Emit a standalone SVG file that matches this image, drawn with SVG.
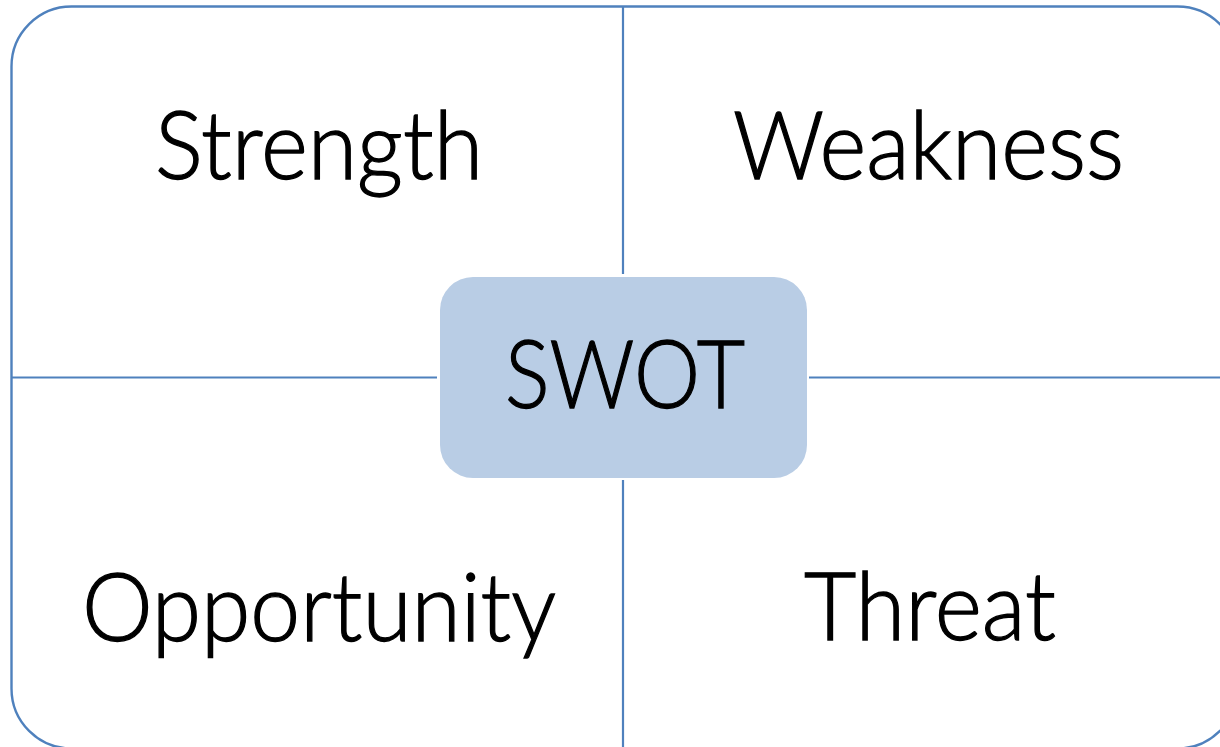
<svg xmlns="http://www.w3.org/2000/svg" width="1220" height="747" viewBox="0 0 1220 747">
<style>
.frame{fill:#FFFFFF;stroke:#4F81BD;stroke-width:2.4}
.conn{stroke:#4F81BD;stroke-width:2.2;fill:none}
.lbl{font-family:Lato,"Liberation Sans",sans-serif;font-weight:300;font-size:94px;fill:#000000;stroke:#000000;stroke-width:1.3;text-anchor:middle}
.core{fill:#B9CDE5;stroke:none}
</style>
<rect width="1220" height="747" fill="#FFFFFF"/>
<g id="frame">
<rect class="frame" x="11.5" y="6.5" width="1226" height="742" rx="60" ry="60"/>
</g>
<g id="connectors">
<line class="conn" x1="623" y1="7" x2="623" y2="274"/>
<line class="conn" x1="623" y1="480" x2="623" y2="747"/>
<line class="conn" x1="12" y1="377.5" x2="437" y2="377.5"/>
<line class="conn" x1="809" y1="377.5" x2="1220" y2="377.5"/>
</g>
<g id="strength">
<text class="lbl" x="319" y="179" textLength="328" lengthAdjust="spacingAndGlyphs">Strength</text>
</g>
<g id="weakness">
<text class="lbl" x="928.5" y="179" textLength="391" lengthAdjust="spacingAndGlyphs">Weakness</text>
</g>
<g id="opportunity">
<text class="lbl" x="319" y="641" textLength="474" lengthAdjust="spacingAndGlyphs">Opportunity</text>
</g>
<g id="threat">
<text class="lbl" x="930" y="640" textLength="252" lengthAdjust="spacingAndGlyphs">Threat</text>
</g>
<g id="swot">
<rect class="core" x="440" y="277" width="367" height="201" rx="33" ry="33"/>
<text class="lbl" x="625" y="408" textLength="240" lengthAdjust="spacingAndGlyphs">SWOT</text>
</g>
</svg>
